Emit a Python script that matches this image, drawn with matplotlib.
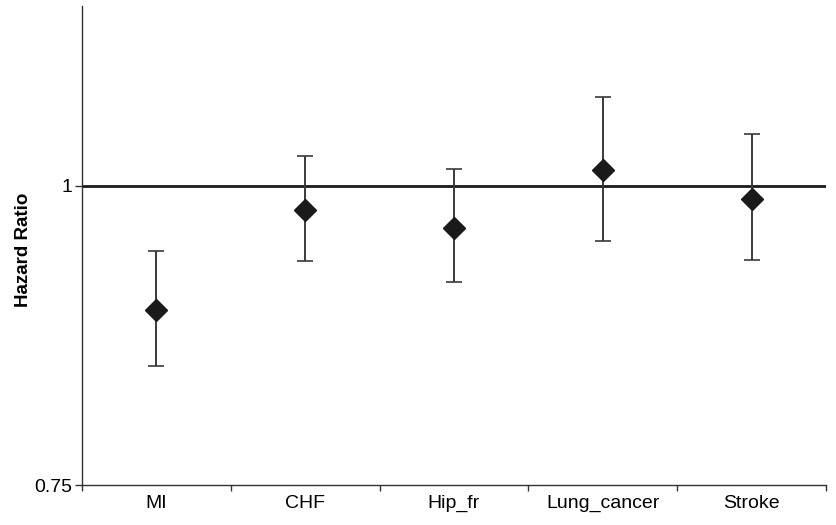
import matplotlib
matplotlib.use("Agg")
import matplotlib.pyplot as plt
import numpy as np

categories = ["MI", "CHF", "Hip_fr", "Lung_cancer", "Stroke"]
hr = [0.896, 0.980, 0.965, 1.013, 0.989]
ci_low = [0.849, 0.937, 0.9195, 0.954, 0.938]
ci_high = [0.9455, 1.0245, 1.0135, 1.074, 1.043]
yticks = [0.75, 1.0]
yticklabels = ["0.75", "1"]

plt.rcParams['font.family'] = ['Liberation Sans', 'DejaVu Sans']

fig = plt.figure(figsize=(8.37, 5.25), dpi=100)
ax = fig.add_axes([82/837, 1-485/525, (826-82)/837, (485-6)/525])

x = np.arange(1, len(categories)+1)
hr_a = np.array(hr)
lo = hr_a - np.array(ci_low)
hi = np.array(ci_high) - hr_a

ax.axhline(1.0, color='#1a1a1a', lw=2.0, zorder=1)
ax.errorbar(x, hr, yerr=[lo, hi], fmt='none', ecolor='#3a3a3a', elinewidth=1.4,
            capsize=5.5, capthick=1.2, zorder=2)
ax.plot(x, hr, linestyle='none', marker='D', markersize=11.5, color='#1a1a1a', zorder=3)

ax.set_xlim(0.5, len(categories)+0.5)
ax.set_ylim(0.75, 1.15)
ax.set_yticks(yticks)
ax.set_yticklabels(yticklabels, fontsize=14)

ax.set_xticks(np.arange(0.5, len(categories)+1, 1.0))
ax.set_xticklabels([])
ax.set_xticks(x, minor=True)
ax.set_xticklabels(categories, minor=True, fontsize=14)
ax.tick_params(axis='x', which='minor', length=0, pad=7)
ax.tick_params(axis='x', which='major', length=4, width=1, color='#333333')
ax.tick_params(axis='y', length=5, width=1, color='#333333', pad=2)

for s in ['top', 'right']:
    ax.spines[s].set_visible(False)
for s in ['left', 'bottom']:
    ax.spines[s].set_color('#333333')
    ax.spines[s].set_linewidth(1.0)

ax.set_ylabel("Hazard Ratio", fontsize=13.5, fontweight='bold')
ax.yaxis.set_label_coords((32-82)/744, (485-250)/479)

fig.savefig("out.png", dpi=100)
